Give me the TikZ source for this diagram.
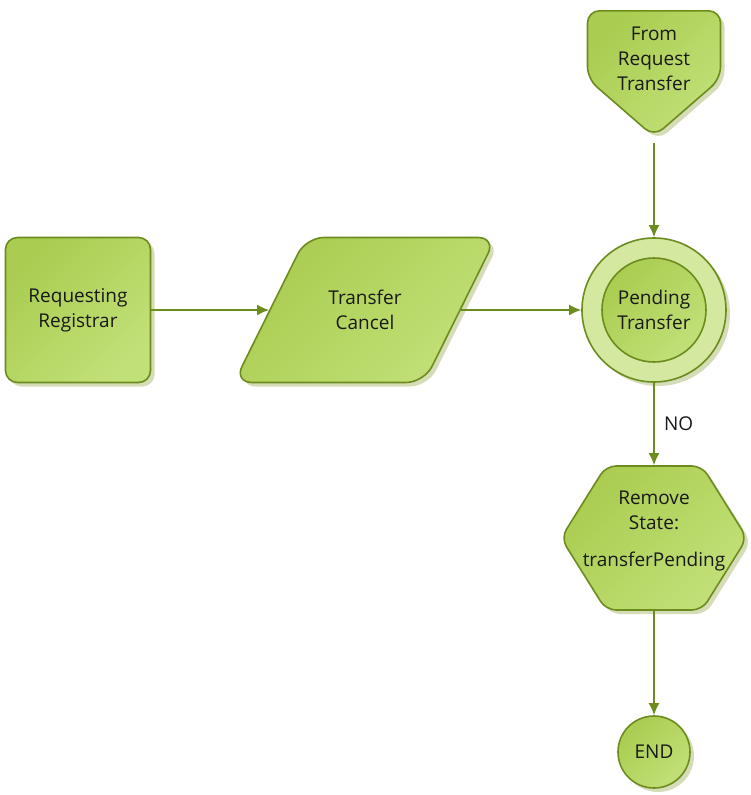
\documentclass[tikz,border=0pt]{standalone}
\usepackage{fontspec}
\setmainfont{Open Sans}
\usetikzlibrary{shapes.geometric, shapes.symbols, shadows, arrows.meta}
\definecolor{myborder}{RGB}{108,140,30}
\definecolor{mygreen1}{RGB}{170,204,80}
\definecolor{mygreen2}{RGB}{194,224,120}
\definecolor{myring}{RGB}{212,232,160}
\definecolor{myshadow}{RGB}{212,220,184}
\tikzset{>={Latex[length=12pt,width=11pt]}}
\tikzset{
  txt/.style = {align=center, text=black!90, font=\fontsize{19}{25}\selectfont},
  flat/.style = {txt, draw=myborder, line width=1.6pt, top color=mygreen1, bottom color=mygreen2, shading angle=45,
    inner sep=0pt},
  box/.style = {flat, drop shadow={shadow xshift=4pt, shadow yshift=-4pt, fill=myshadow, opacity=1}},
  link/.style = {->, draw=myborder, line width=1.6pt},
}

\begin{document}
\begin{tikzpicture}[x=1pt, y=-1pt]

\useasboundingbox (0,0) rectangle (750,795);

% shapes
\node[box, signal, signal to=south, signal pointer angle=98, rounded corners=12pt,
  minimum width=133pt, minimum height=68pt, anchor=north,
  label={[txt, yshift=-14pt]center:From\\Request\\Transfer}] (from) at (654,10) {};
\node[box, rounded corners=12pt, minimum width=145pt, minimum height=145pt] (reg) at (78,310) {Requesting\\Registrar};
\node[box, trapezium, trapezium left angle=63.6, trapezium right angle=116.4, trapezium stretches body=true,
  rounded corners=18pt, text height=72.5pt, text depth=72.5pt, minimum width=262pt,
  label={[txt]center:Transfer\\Cancel}] (cancel) at (365,310) {};
\node[box, circle, top color=myring, bottom color=myring, minimum size=144pt] (pendo) at (654,310) {};
\node[flat, circle, minimum size=104pt] (pend) at (654,310) {Pending\\Transfer};
\node[box, signal, signal to=west and east, signal pointer angle=116, rounded corners=10pt,
  minimum width=186pt, minimum height=144pt,
  label={[txt, yshift=7pt]center:Remove\\State:\\[12pt]transferPending}] (hex) at (654,538) {};
\node[box, circle, minimum size=72pt] (end) at (654,752) {END};

% connectors
\draw[link, shorten <=5pt] (from.south) -- (pendo.north);
\draw[link] (reg.east) -- (cancel.west);
\draw[link] (cancel.east) -- (pendo.west);
\draw[link] (pendo.south) -- node[txt, midway, right=6pt] {NO} (hex.north);
\draw[link] (hex.south) -- (end.north);

\end{tikzpicture}
\end{document}
